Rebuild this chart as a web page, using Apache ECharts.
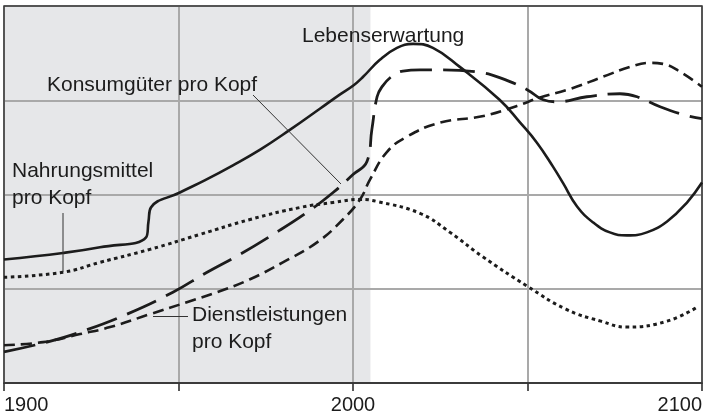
<!DOCTYPE html>
<html><head><meta charset="utf-8">
<script src="https://cdn.jsdelivr.net/npm/echarts@6/dist/echarts.min.js"></script>
<style>html,body{margin:0;padding:0;background:#fff}#c{width:711px;height:420px}</style>
</head><body><div id="c"></div>
<script>
// ---- data ----
const xLabelTicks = [1900, 2000, 2100];
const shadeRange = [1900, 2005];

const lebenYears  = [1900, 1916.9, 1927.5, 1940.7, 1941.4, 1942.1, 1950.4, 1957.5, 1965.6, 1973.4, 1982, 1990.5, 1996.3, 2000, 2002.9, 2007.7, 2012.6, 2017.2, 2022.9, 2030.6, 2042, 2047.9, 2052.7, 2057.3, 2060.2, 2064.2, 2068.8, 2073.6, 2078.5, 2084.2, 2090, 2095.7, 2100];
const lebenValues = [1.31, 1.38, 1.44, 1.545, 1.714, 1.862, 2.021, 2.15, 2.31, 2.476, 2.688, 2.91, 3.063, 3.153, 3.249, 3.429, 3.556, 3.598, 3.556, 3.354, 3.005, 2.762, 2.55, 2.296, 2.12, 1.873, 1.704, 1.598, 1.566, 1.598, 1.714, 1.915, 2.127];

const konsumYears  = [1900, 1912.3, 1921.8, 1935.2, 1948.4, 1958.2, 1967.6, 1977.1, 1986.8, 1994.3, 2000, 2004, 2005.4, 2006.9, 2008.3, 2011, 2014.3, 2019.2, 2024.9, 2035.5, 2042, 2050, 2054.5, 2058.5, 2067, 2076.5, 2081.4, 2088, 2095.7, 2100];
const konsumValues = [0.33, 0.434, 0.54, 0.73, 0.963, 1.175, 1.365, 1.577, 1.81, 2.021, 2.212, 2.35, 2.688, 3.037, 3.143, 3.25, 3.31, 3.323, 3.323, 3.30, 3.24, 3.11, 3.005, 2.984, 3.037, 3.069, 3.037, 2.931, 2.836, 2.804];

const dienstYears  = [1900, 1911.2, 1921.8, 1930.4, 1941.8, 1952.4, 1961, 1970.5, 1979.9, 1989.7, 1997.1, 2002, 2004.9, 2009.7, 2015.5, 2024.9, 2037, 2047, 2053.6, 2062.2, 2071.6, 2079.4, 2085.1, 2088.8, 2093.7, 2100];
const dienstValues = [0.40, 0.434, 0.519, 0.593, 0.73, 0.857, 0.963, 1.101, 1.28, 1.492, 1.735, 1.947, 2.16, 2.45, 2.614, 2.762, 2.83, 2.94, 3.03, 3.12, 3.249, 3.354, 3.397, 3.386, 3.302, 3.143];

const nahrYears  = [1900, 1916.9, 1927.5, 1941.8, 1956.2, 1970.5, 1984.8, 1994.3, 2002, 2006.9, 2019.2, 2027.8, 2037, 2050, 2061, 2071, 2078.5, 2090, 2098.6];
const nahrValues = [1.122, 1.175, 1.28, 1.418, 1.577, 1.735, 1.862, 1.915, 1.947, 1.926, 1.80, 1.598, 1.344, 1.026, 0.783, 0.656, 0.593, 0.656, 0.804];

const zip = (xs, ys) => xs.map((x, i) => [x, ys[i]]);

const ink = '#1c1c1c';
const font = '"Liberation Sans", Arial, Helvetica, sans-serif';

const chart = echarts.init(document.getElementById('c'), null, {renderer: 'canvas'});

function lineSeries(name, data, type, width) {
  return {
    name, type: 'line', data, showSymbol: false, smooth: 0.45,
    lineStyle: {color: ink, width, type, cap: 'butt', join: 'round'},
    z: 10, silent: true
  };
}

chart.setOption({
  animation: false,
  grid: {left: 4, right: 9, top: 6, bottom: 37, show: true, borderColor: '#3a3a3a', borderWidth: 1.5, backgroundColor: 'transparent', z: 6},
  xAxis: {
    type: 'value', min: 1900, max: 2100, interval: 50, z: 5,
    axisLine: {show: true, lineStyle: {color: '#222', width: 1.5}},
    axisTick: {show: true, length: 8, lineStyle: {color: '#222', width: 1.5}},
    splitLine: {show: true, lineStyle: {color: '#a9a9a9', width: 2}},
    axisLabel: {
      margin: 12, fontSize: 20, fontFamily: font, color: ink,
      alignMinLabel: 'left', alignMaxLabel: 'right',
      formatter: v => xLabelTicks.includes(v) ? String(v) : ''
    }
  },
  yAxis: {
    type: 'value', min: 0, max: 4, interval: 1, z: 5,
    axisLine: {show: false}, axisTick: {show: false}, axisLabel: {show: false},
    splitLine: {show: true, lineStyle: {color: '#a9a9a9', width: 2}}
  },
  series: [
    {
      type: 'line', data: [], z: 1, silent: true,
      markArea: {silent: true, itemStyle: {color: '#e6e7e9'}, data: [[{xAxis: shadeRange[0]}, {xAxis: shadeRange[1]}]]}
    },
    lineSeries('Lebenserwartung', zip(lebenYears, lebenValues), 'solid', 2.6),
    lineSeries('Konsumgüter pro Kopf', zip(konsumYears, konsumValues), [32, 11], 2.8),
    lineSeries('Dienstleistungen pro Kopf', zip(dienstYears, dienstValues), [11, 6], 2.6),
    lineSeries('Nahrungsmittel pro Kopf', zip(nahrYears, nahrValues), [3.5, 3.5], 3)
  ],
  graphic: [
    {type: 'text', z: 20, left: 302, top: 26, style: {text: 'Lebenserwartung', font: '21px ' + font, fill: ink}},
    {type: 'text', z: 20, left: 47, top: 75, style: {text: 'Konsumgüter pro Kopf', font: '21px ' + font, fill: ink}},
    {type: 'text', z: 20, left: 12, top: 161, style: {text: 'Nahrungsmittel', font: '21px ' + font, fill: ink}},
    {type: 'text', z: 20, left: 12, top: 188, style: {text: 'pro Kopf', font: '21px ' + font, fill: ink}},
    {type: 'text', z: 20, left: 192, top: 305, style: {text: 'Dienstleistungen', font: '21px ' + font, fill: ink}},
    {type: 'text', z: 20, left: 192, top: 332, style: {text: 'pro Kopf', font: '21px ' + font, fill: ink}},
    {type: 'line', z: 20, shape: {x1: 253, y1: 95, x2: 341, y2: 184}, style: {stroke: '#333', lineWidth: 1}},
    {type: 'line', z: 20, shape: {x1: 63, y1: 213, x2: 63, y2: 272}, style: {stroke: '#333', lineWidth: 1}},
    {type: 'line', z: 20, shape: {x1: 153, y1: 316.5, x2: 188, y2: 316.5}, style: {stroke: '#333', lineWidth: 1}}
  ]
});
</script></body></html>
